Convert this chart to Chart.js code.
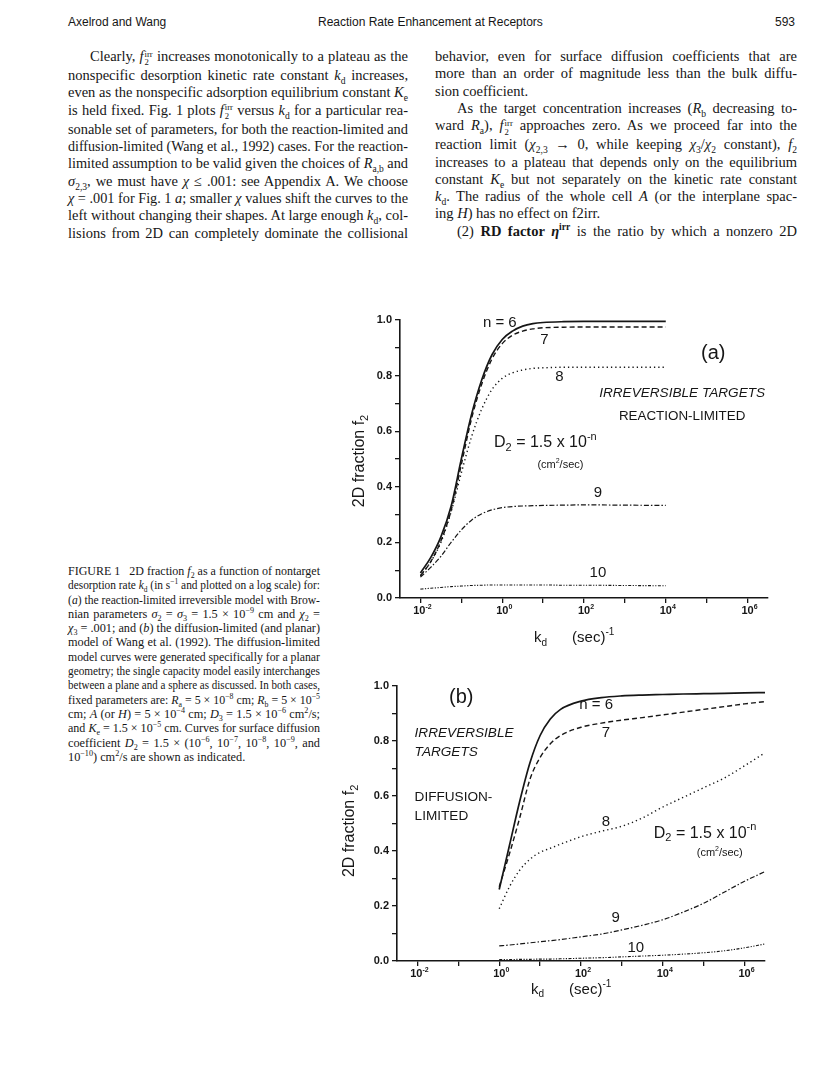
<!DOCTYPE html>
<html lang="en">
<head>
<meta charset="UTF-8">
<title>Axelrod and Wang - Reaction Rate Enhancement at Receptors</title>
<script src="https://cdn.jsdelivr.net/npm/chart.js@4.4.1/dist/chart.umd.min.js"></script>
<style>
    html, body { margin: 0; padding: 0; background: #fff; }
    #page { position: relative; width: 816px; height: 1067px; overflow: hidden; color: #161616; }
    .hdr { position: absolute; top: 15px; font: 12px "Liberation Sans", Arial, sans-serif; white-space: nowrap; }
    .col { position: absolute; font: 14.5px/17.3px "Liberation Serif", "Times New Roman", serif; }
    .cap { position: absolute; font: 12.3px/14.3px "Liberation Serif", "Times New Roman", serif; }
    .ln { white-space: nowrap; overflow: visible; }
    .ln .t { display: inline-block; transform-origin: 0 50%; }
    .ind { padding-left: 22px; }
    sub, sup { font-size: 0.66em; line-height: 0; }
    .ss { display: inline-flex; flex-direction: column; font-size: 0.6em; line-height: 1; vertical-align: 0.5em; margin-left: 1px; }
    .ss span { display: block; }
    canvas { position: absolute; }
</style>
</head>
<body>
<div id="page">
    <div class="hdr" style="left:68px">Axelrod and Wang</div>
    <div class="hdr" style="left:318px">Reaction Rate Enhancement at Receptors</div>
    <div class="hdr" style="left:775px">593</div>

    <div class="col" id="colLeft" style="left:68px; top:48px; width:340px">
        <div class="ln ind"><span class="t">Clearly, <i>f</i><span class="ss"><span>irr</span><span>2</span></span> increases monotonically to a plateau as the</span></div>
        <div class="ln"><span class="t">nonspecific desorption kinetic rate constant <i>k</i><sub>d</sub> increases,</span></div>
        <div class="ln"><span class="t">even as the nonspecific adsorption equilibrium constant <i>K</i><sub>e</sub></span></div>
        <div class="ln"><span class="t">is held fixed. Fig. 1 plots <i>f</i><span class="ss"><span>irr</span><span>2</span></span> versus <i>k</i><sub>d</sub> for a particular rea-</span></div>
        <div class="ln"><span class="t">sonable set of parameters, for both the reaction-limited and</span></div>
        <div class="ln"><span class="t">diffusion-limited (Wang et al., 1992) cases. For the reaction-</span></div>
        <div class="ln"><span class="t">limited assumption to be valid given the choices of <i>R</i><sub>a,b</sub> and</span></div>
        <div class="ln"><span class="t"><i>σ</i><sub>2,3</sub>, we must have <i>χ</i> ≤ .001: see Appendix A. We choose</span></div>
        <div class="ln"><span class="t"><i>χ</i> = .001 for Fig. 1 <i>a</i>; smaller <i>χ</i> values shift the curves to the</span></div>
        <div class="ln"><span class="t">left without changing their shapes. At large enough <i>k</i><sub>d</sub>, col-</span></div>
        <div class="ln"><span class="t">lisions from 2D can completely dominate the collisional</span></div>
    </div>

    <div class="col" id="colRight" style="left:435px; top:48px; width:362px">
        <div class="ln"><span class="t">behavior, even for surface diffusion coefficients that are</span></div>
        <div class="ln"><span class="t">more than an order of magnitude less than the bulk diffu-</span></div>
        <div class="ln last"><span class="t">sion coefficient.</span></div>
        <div class="ln ind"><span class="t">As the target concentration increases (<i>R</i><sub>b</sub> decreasing to-</span></div>
        <div class="ln"><span class="t">ward <i>R</i><sub>a</sub>), <i>f</i><span class="ss"><span>irr</span><span>2</span></span> approaches zero. As we proceed far into the</span></div>
        <div class="ln"><span class="t">reaction limit (<i>χ</i><sub>2,3</sub> → 0, while keeping <i>χ</i><sub>3</sub>/<i>χ</i><sub>2</sub> constant), <i>f</i><sub>2</sub></span></div>
        <div class="ln"><span class="t">increases to a plateau that depends only on the equilibrium</span></div>
        <div class="ln"><span class="t">constant <i>K</i><sub>e</sub> but not separately on the kinetic rate constant</span></div>
        <div class="ln"><span class="t"><i>k</i><sub>d</sub>. The radius of the whole cell <i>A</i> (or the interplane spac-</span></div>
        <div class="ln last"><span class="t">ing <i>H</i>) has no effect on f2irr.</span></div>
        <div class="ln ind"><span class="t">(2) <b>RD factor <i>η</i><sup>irr</sup></b> is the ratio by which a nonzero 2D</span></div>
    </div>

    <div class="cap" id="caption" style="left:68px; top:564px; width:252px">
        <div class="ln"><span class="t">FIGURE 1&nbsp;&nbsp; 2D fraction <i>f</i><sub>2</sub> as a function of nontarget</span></div>
        <div class="ln"><span class="t">desorption rate <i>k</i><sub>d</sub> (in s<sup>−1</sup> and plotted on a log scale) for:</span></div>
        <div class="ln"><span class="t">(<i>a</i>) the reaction-limited irreversible model with Brow-</span></div>
        <div class="ln"><span class="t">nian parameters <i>σ</i><sub>2</sub> = <i>σ</i><sub>3</sub> = 1.5 × 10<sup>−9</sup> cm and <i>χ</i><sub>2</sub> =</span></div>
        <div class="ln"><span class="t"><i>χ</i><sub>3</sub> = .001; and (<i>b</i>) the diffusion-limited (and planar)</span></div>
        <div class="ln"><span class="t">model of Wang et al. (1992). The diffusion-limited</span></div>
        <div class="ln"><span class="t">model curves were generated specifically for a planar</span></div>
        <div class="ln"><span class="t">geometry; the single capacity model easily interchanges</span></div>
        <div class="ln"><span class="t">between a plane and a sphere as discussed. In both cases,</span></div>
        <div class="ln"><span class="t">fixed parameters are: <i>R</i><sub>a</sub> = 5 × 10<sup>−8</sup> cm; <i>R</i><sub>b</sub> = 5 × 10<sup>−5</sup></span></div>
        <div class="ln"><span class="t">cm; <i>A</i> (or <i>H</i>) = 5 × 10<sup>−4</sup> cm; <i>D</i><sub>3</sub> = 1.5 × 10<sup>−6</sup> cm<sup>2</sup>/s;</span></div>
        <div class="ln"><span class="t">and <i>K</i><sub>e</sub> = 1.5 × 10<sup>−5</sup> cm. Curves for surface diffusion</span></div>
        <div class="ln"><span class="t">coefficient <i>D</i><sub>2</sub> = 1.5 × (10<sup>−6</sup>, 10<sup>−7</sup>, 10<sup>−8</sup>, 10<sup>−9</sup>, and</span></div>
        <div class="ln last"><span class="t">10<sup>−10</sup>) cm<sup>2</sup>/s are shown as indicated.</span></div>
    </div>

    <canvas id="chartA" width="470" height="370" style="left:330px; top:290px"></canvas>
    <canvas id="chartB" width="470" height="367" style="left:327px; top:656px"></canvas>
</div>

<script>
    // k_d values are given as log10 exponents (x axis is logarithmic)
    const kdExpA = [-2, -1.75, -1.5, -1.25, -1, -0.75, -0.5, -0.25, 0, 0.25, 0.5, 0.75, 1, 1.5, 2, 3, 4];
    const fA6  = [0.09, 0.145, 0.22, 0.33, 0.50, 0.66, 0.785, 0.875, 0.93, 0.96, 0.978, 0.987, 0.991, 0.994, 0.995, 0.995, 0.995];
    const fA7  = [0.08, 0.13, 0.205, 0.315, 0.48, 0.645, 0.77, 0.86, 0.915, 0.945, 0.96, 0.968, 0.972, 0.974, 0.975, 0.975, 0.975];
    const fA8  = [0.08, 0.13, 0.20, 0.31, 0.45, 0.58, 0.68, 0.75, 0.79, 0.81, 0.82, 0.826, 0.828, 0.83, 0.83, 0.83, 0.83];
    const fA9  = [0.075, 0.11, 0.15, 0.20, 0.245, 0.28, 0.303, 0.317, 0.325, 0.329, 0.331, 0.332, 0.333, 0.334, 0.335, 0.334, 0.333];
    const fA10 = [0.032, 0.035, 0.038, 0.041, 0.043, 0.045, 0.046, 0.047, 0.047, 0.047, 0.047, 0.047, 0.047, 0.046, 0.046, 0.045, 0.044];

    const kdExpB = [0, 0.25, 0.5, 0.75, 1, 1.25, 1.5, 2, 2.5, 3, 3.5, 4, 4.5, 5, 5.5, 6, 6.5];
    const fB6  = [0.26, 0.42, 0.58, 0.72, 0.82, 0.88, 0.915, 0.945, 0.958, 0.964, 0.967, 0.969, 0.971, 0.972, 0.973, 0.975, 0.976];
    const fB7  = [0.27, 0.39, 0.52, 0.66, 0.74, 0.79, 0.82, 0.85, 0.865, 0.876, 0.885, 0.895, 0.905, 0.915, 0.925, 0.935, 0.943];
    const fB8  = [0.19, 0.27, 0.33, 0.37, 0.395, 0.41, 0.425, 0.452, 0.472, 0.49, 0.52, 0.56, 0.595, 0.63, 0.665, 0.71, 0.757];
    const fB9  = [0.055, 0.058, 0.062, 0.066, 0.07, 0.074, 0.078, 0.088, 0.098, 0.113, 0.13, 0.15, 0.178, 0.21, 0.25, 0.29, 0.325];
    const fB10 = [0.005, 0.005, 0.006, 0.006, 0.007, 0.007, 0.008, 0.01, 0.012, 0.015, 0.018, 0.021, 0.025, 0.03, 0.037, 0.048, 0.062];

    // x ticks at every decade, labelled only on the even ones
    const decades = [-2, -1, 0, 1, 2, 3, 4, 5, 6];
    const labelledDecades = [-2, 0, 2, 4, 6];

    // line style per n = 6..10
    const lineStyles = [
        { width: 1.7, dash: [] },
        { width: 1.4, dash: [5, 3] },
        { width: 1.4, dash: [1.3, 3] },
        { width: 1.2, dash: [5, 2, 1.5, 2] },
        { width: 1.1, dash: [3, 1.5, 1.2, 1.5, 1.2, 1.5] }
    ];

    // text drawn inside the plots: [exponent of k_d, f2, parts, size, align, style, rotated]
    const D2 = [["D", ""], ["2", "sub"], [" = 1.5 x 10", ""], ["-n", "sup"]];
    const UNITS = [["(cm", ""], ["2", "sup"], ["/sec)", ""]];
    const XTITLE = [["k", ""], ["d", "sub"], ["      (sec)", ""], ["-1", "sup"]];
    const YTITLE = [["2D fraction f", ""], ["2", "sub"]];

    const notesA = [
        [-0.06, 0.989, [["n = 6", ""]], 15, "center", ""],
        [1.03, 0.928, [["7", ""]], 15, "center", ""],
        [1.40, 0.795, [["8", ""]], 15, "center", ""],
        [5.16, 0.878, [["(a)", ""]], 20, "center", ""],
        [4.40, 0.737, [["IRREVERSIBLE TARGETS", ""]], 13.6, "center", "italic"],
        [4.40, 0.655, [["REACTION-LIMITED", ""]], 13.4, "center", ""],
        [-0.20, 0.558, D2, 16, "left", ""],
        [0.86, 0.478, UNITS, 11, "left", ""],
        [2.34, 0.378, [["9", ""]], 15, "center", ""],
        [2.34, 0.090, [["10", ""]], 15, "center", ""],
        [1.76, -0.144, XTITLE, 15, "center", ""],
        [-3.48, 0.493, YTITLE, 16, "center", "", true]
    ];
    const notesB = [
        [-0.93, 0.960, [["(b)", ""]], 20, "center", ""],
        [2.37, 0.930, [["n = 6", ""]], 15, "center", ""],
        [2.61, 0.830, [["7", ""]], 15, "center", ""],
        [-2.07, 0.830, [["IRREVERSIBLE", ""]], 13.6, "left", "italic"],
        [-2.07, 0.760, [["TARGETS", ""]], 13.6, "left", "italic"],
        [-2.07, 0.596, [["DIFFUSION-", ""]], 13.6, "left", ""],
        [-2.07, 0.527, [["LIMITED", ""]], 13.6, "left", ""],
        [2.61, 0.505, [["8", ""]], 15, "center", ""],
        [3.78, 0.465, D2, 16, "left", ""],
        [4.83, 0.393, UNITS, 11, "left", ""],
        [2.85, 0.156, [["9", ""]], 15, "center", ""],
        [3.34, 0.047, [["10", ""]], 15, "center", ""],
        [1.76, -0.105, XTITLE, 15, "center", ""],
        [-3.66, 0.473, YTITLE, 16, "center", "", true]
    ];

    const FAM = '"Liberation Sans", Arial, sans-serif';
    const INK = "#161616";

    function drawRich(ctx, parts, size, align, style) {
        const fontFor = k => (style ? style + " " : "") + (k ? Math.round(size * 0.68) : size) + "px " + FAM;
        let total = 0;
        parts.forEach(([t, k]) => { ctx.font = fontFor(k); total += ctx.measureText(t).width; });
        let x = align === "left" ? 0 : -total / 2;
        ctx.fillStyle = INK;
        ctx.textBaseline = "middle";
        ctx.textAlign = "left";
        parts.forEach(([t, k]) => {
            ctx.font = fontFor(k);
            const dy = k === "sub" ? size * 0.32 : (k === "sup" ? -size * 0.38 : 0);
            ctx.fillText(t, x, dy);
            x += ctx.measureText(t).width;
        });
    }

    function notesPlugin(notes) {
        return {
            id: "notes",
            afterDraw(chart) {
                const ctx = chart.ctx;
                const xs = chart.scales.x, ys = chart.scales.y;
                // decade labels 10^n under the x axis, placed on the scale's own ticks
                for (const tick of xs.ticks) {
                    const e = Math.round(Math.log10(tick.value));
                    if (!labelledDecades.includes(e)) continue;
                    ctx.save();
                    ctx.translate(xs.getPixelForValue(tick.value) + 2, chart.chartArea.bottom + 13);
                    drawRich(ctx, [["10", ""], [String(e), "sup"]], 11, "center", "bold");
                    ctx.restore();
                }
                for (const [e, v, parts, size, align, style, rot] of notes) {
                    ctx.save();
                    ctx.translate(xs.getPixelForValue(Math.pow(10, e)), ys.getPixelForValue(v));
                    if (rot) ctx.rotate(-Math.PI / 2);
                    drawRich(ctx, parts, size, align, style);
                    ctx.restore();
                }
            }
        };
    }

    function makeChart(id, kdExp, series, notes) {
        const datasets = series.map((vals, i) => ({
            label: "n = " + (6 + i),
            data: kdExp.map((e, j) => ({ x: Math.pow(10, e), y: vals[j] })),
            borderColor: INK,
            borderWidth: lineStyles[i].width,
            borderDash: lineStyles[i].dash,
            pointRadius: 0,
            fill: false,
            cubicInterpolationMode: "monotone"
        }));
        const axisGrid = { drawOnChartArea: false, drawTicks: true, tickLength: 5, color: INK, lineWidth: 1.3 };
        const axisBorder = { display: true, color: INK, width: 1.6 };
        const tickFont = { family: FAM, size: 11, weight: "bold" };
        return new Chart(document.getElementById(id), {
            type: "line",
            data: { datasets },
            options: {
                responsive: false,
                animation: false,
                devicePixelRatio: 1,
                layout: { padding: { top: 30, right: 32, left: 0, bottom: 0 } },
                plugins: { legend: { display: false }, tooltip: { enabled: false } },
                scales: {
                    x: {
                        type: "logarithmic",
                        min: Math.pow(10, -2.5),
                        max: Math.pow(10, 6.5),
                        afterBuildTicks: s => { s.ticks = decades.map(e => ({ value: Math.pow(10, e) })); },
                        afterFit: s => { s.height = 62; },
                        grid: axisGrid,
                        border: axisBorder,
                        ticks: { autoSkip: false, maxRotation: 0, font: tickFont, callback: () => "" }
                    },
                    y: {
                        min: 0,
                        max: 1,
                        afterFit: s => { s.width = 70; },
                        grid: axisGrid,
                        border: axisBorder,
                        ticks: {
                            stepSize: 0.1,
                            padding: 3,
                            color: INK,
                            font: tickFont,
                            callback: v => (Math.round(v * 10) % 2 === 0 ? v.toFixed(1) : "")
                        }
                    }
                }
            },
            plugins: [notesPlugin(notes)]
        });
    }

    // justify each typeset line to its column width
    function fitLines() {
        document.querySelectorAll(".col, .cap").forEach(col => {
            const w = col.clientWidth;
            col.querySelectorAll(".ln").forEach(ln => {
                const t = ln.querySelector(".t");
                const indent = parseFloat(getComputedStyle(ln).paddingLeft) || 0;
                const avail = w - indent;
                const nat = t.getBoundingClientRect().width;
                if (nat > avail) {
                    t.style.transform = "scaleX(" + (avail / nat) + ")";
                } else if (!ln.classList.contains("last")) {
                    const gaps = (t.textContent.match(/ /g) || []).length;
                    if (gaps) t.style.wordSpacing = ((avail - nat) / gaps) + "px";
                }
            });
        });
    }

    fitLines();
    makeChart("chartA", kdExpA, [fA6, fA7, fA8, fA9, fA10], notesA);
    makeChart("chartB", kdExpB, [fB6, fB7, fB8, fB9, fB10], notesB);
</script>
</body>
</html>
